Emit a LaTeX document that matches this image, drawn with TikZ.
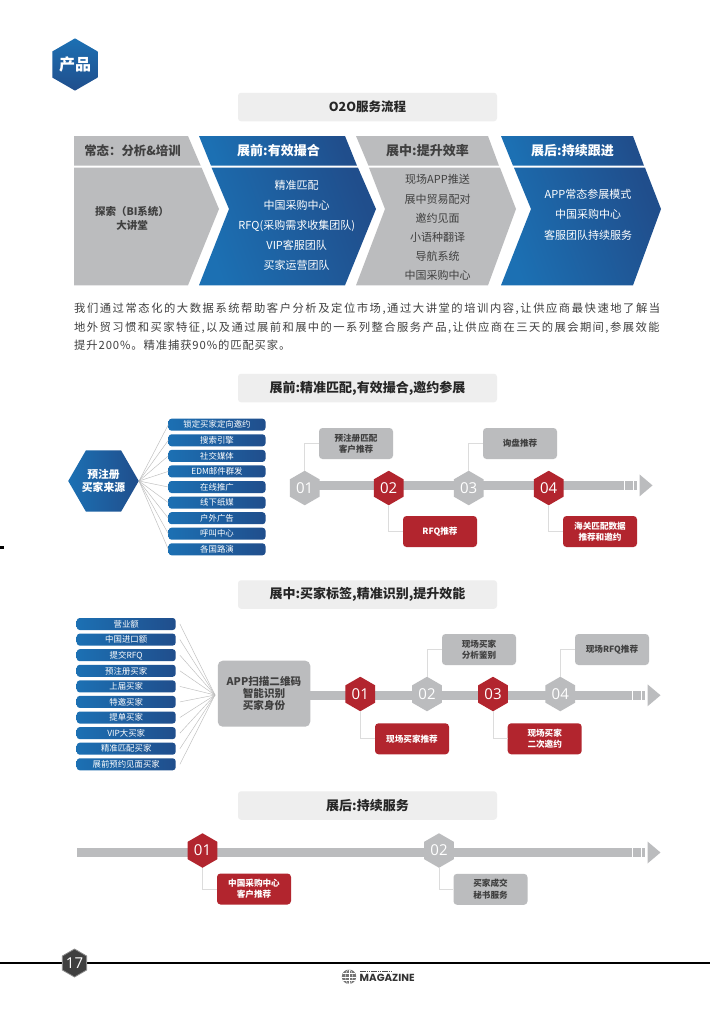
\documentclass[tikz,border=0pt]{standalone}
\usepackage{fontspec}
\setmainfont{Noto Sans CJK SC}
\newfontfamily\numf{Open Sans}
\newfontfamily\magf{Poppins}
\usetikzlibrary{shapes.geometric}
\definecolor{bluea}{HTML}{1C70B3}
\definecolor{blueb}{HTML}{204E8C}
\definecolor{grayc}{HTML}{BBBCBE}
\definecolor{redc}{HTML}{B2252E}
\definecolor{inkc}{HTML}{404040}
\definecolor{titc}{HTML}{EEEEEE}
\definecolor{connc}{HTML}{DCDCDC}
\definecolor{rayc}{HTML}{BDBDBD}
\newcommand\fs[2]{\fontsize{#1}{#2}\selectfont}
\newcommand\parafont{\fs{11.3}{18.6}}
\tikzset{
  ttl/.style={fill=titc,rounded corners=3pt,minimum width=259pt,minimum height=28.5pt,inner sep=0pt,text=black!85,font=\fs{13}{15}\bfseries},
  gbox/.style={fill=grayc,rounded corners=3.5pt,minimum width=74pt,minimum height=31pt,inner sep=0pt,align=center,text=inkc,font=\fs{8.6}{11.5}\bfseries},
  rbox/.style={gbox,fill=redc,text=white},
  hexbase/.style={regular polygon,regular polygon sides=6,regular polygon rotate=30,minimum size=34.5pt,inner sep=0pt,text=white,font=\numf\fs{15}{15}},
  hexr/.style={hexbase,fill=redc},
  hexg/.style={hexbase,fill=grayc},
  barline/.style={grayc,line width=9.4pt},
  conn/.style={connc,line width=0.9pt},
  ray/.style={rayc,line width=0.45pt},
  pill/.style={left color=bluea,right color=blueb,rounded corners=3pt,minimum width=97pt,minimum height=12pt,inner sep=0pt,text=white,font=\fs{8.4}{10}},
  pillb/.style={pill,minimum width=99pt},
  chevg/.style={fill=grayc},
  chevb/.style={left color=bluea,right color=blueb,shading angle=110},
  headw/.style={text=white,font=\fs{13}{15}\bfseries},
  headk/.style={text=inkc,font=\fs{13}{15}\bfseries},
  tltail/.pic={
    \fill[grayc] (1,-4.7) rectangle (8.5,4.7);
    \fill[grayc] (9.5,-4.7) rectangle (13,4.7);
    \fill[grayc] (15.5,-11) -- (28.5,0) -- (15.5,11) -- cycle;
  }
}
\begin{document}
\begin{tikzpicture}[x=1pt,y=-1pt]
\useasboundingbox (0,0) rectangle (710,1028);
\fill[white] (0,0) rectangle (710,1028);

% badge
\node[regular polygon,regular polygon sides=6,regular polygon rotate=30,minimum size=49pt,inner sep=0pt,fill=white,draw=bluea,line width=0.8pt] (badgeo) at (75,64.5) {};
\node[regular polygon,regular polygon sides=6,regular polygon rotate=30,minimum size=45.5pt,inner sep=0pt,top color=bluea,bottom color=blueb,text=white,font=\fs{16}{18}\bfseries] (badge) at (75,64.5) {产品};

\node[ttl,font=\fs{12.5}{15}\bfseries] (t1) at (367.5,107) {O2O服务流程};

% chevrons
\path[chevg] (74,136) -- (188,136) -- (200.7,165.7) -- (74,165.7) -- cycle;
\path[chevg] (74,167.7) -- (201.6,167.7) -- (219,209) -- (188,285.3) -- (74,285.3) -- cycle;
\path[chevb] (199,136) -- (345,136) -- (357,165.7) -- (211,165.7) -- cycle;
\path[chevb] (211.6,167.7) -- (358,167.7) -- (376,209) -- (345,285.3) -- (199,285.3) -- (229,209) -- cycle;
\path[chevg] (356,136) -- (488,136) -- (499,165.7) -- (368.5,165.7) -- cycle;
\path[chevg] (369,167.7) -- (500,167.7) -- (516,209) -- (488,285.3) -- (356,285.3) -- (385,209) -- cycle;
\path[chevb] (501,136) -- (633,136) -- (644,165.7) -- (513,165.7) -- cycle;
\path[chevb] (514,167.7) -- (645,167.7) -- (661,209) -- (633,285.3) -- (501,285.3) -- (531,209) -- cycle;

\node[headk,font=\fs{12.4}{15}\bfseries] (h1) at (132.5,151) {常态：分析\&培训};
\node[headw] (h2) at (278.5,151) {展前:有效撮合};
\node[headk] (h3) at (427.5,151) {展中:提升效率};
\node[headw] (h4) at (572.5,151) {展后:持续跟进};

\node[align=center,text=inkc,font=\fs{10.5}{14}\bfseries] (c1) at (132,218.7) {探索（BI系统）\\大讲堂};
\node[align=center,text=white,font=\fs{11}{20}] (c2) at (296.7,225) {精准匹配\\中国采购中心\\RFQ(采购需求收集团队)\\VIP客服团队\\买家运营团队};
\node[align=center,text=inkc,font=\fs{11}{19.2}] (c3) at (437.5,227.7) {现场APP推送\\展中贸易配对\\邀约见面\\小语种翻译\\导航系统\\中国采购中心};
\node[align=center,text=white,font=\fs{11}{20.5}] (c4) at (588,214.5) {APP常态参展模式\\中国采购中心\\客服团队持续服务};

% paragraph
\node[anchor=north west,inner sep=0pt,align=left,text=inkc,font=\parafont] (para) at (74,303) {%
{\addfontfeature{LetterSpace=13.7}我们通过常态化的大数据系统帮助客户分析及定位市场,通过大讲堂的培训内容,让供应商最快速地了解当}\\
{\addfontfeature{LetterSpace=12.7}地外贸习惯和买家特征,以及通过展前和展中的一系列整合服务产品,让供应商在三天的展会期间,参展效能}\\
{\addfontfeature{LetterSpace=8}提升200\%。精准捕获90\%的匹配买家。}};

% section 2
\node[ttl] (t2) at (367.5,388) {展前:精准匹配,有效撮合,邀约参展};
\node[regular polygon,regular polygon sides=6,minimum size=59pt,inner sep=0pt,left color=bluea,right color=blueb,align=center,text=white,font=\fs{10.8}{12.5}\bfseries] (src) at (103.5,481) {预注册\\买家来源};
\foreach \i/\y/\t in {1/424.7/锁定买家定向邀约,2/440.3/搜索引擎,3/455.9/社交媒体,4/471.4/EDM邮件群发,5/487/在线推广,6/502.6/线下纸媒,7/518.2/户外广告,8/533.7/呼叫中心,9/549.3/各国路演}{
  \node[pill] (p\i) at (217,\y) {\t};
  \draw[ray] (src.east) -- (p\i.west);
}
\coordinate (a0) at (300,485.4);
\coordinate (a1) at (624,485.4);
\draw[barline] (a0) -- (a1);
\pic at (a1) {tltail};
\node[hexg] (a01) at (304.7,488) {01};
\node[hexr] (a02) at (388.7,488) {02};
\node[hexg] (a03) at (468.7,488) {03};
\node[hexr] (a04) at (548.7,488) {04};
\node[gbox] (ab1) at (356,443.5) {预注册匹配\\客户推荐};
\node[rbox] (ab2) at (440,531.5) {RFQ推荐};
\node[gbox] (ab3) at (520,443.5) {询盘推荐};
\node[rbox] (ab4) at (600,531.5) {海关匹配数据\\推荐和邀约};
\draw[conn] (a01.north) |- (ab1.west);
\draw[conn] (a02.south) |- (ab2.west);
\draw[conn] (a03.north) |- (ab3.west);
\draw[conn] (a04.south) |- (ab4.west);

% section 3
\node[ttl] (t3) at (367.5,594.5) {展中:买家标签,精准识别,提升效能};
\coordinate (conv) at (215,695);
\foreach \i/\y/\t in {1/624/营业额,2/639.6/中国进口额,3/655.2/提交RFQ,4/670.8/预注册买家,5/686.4/上届买家,6/701.9/特邀买家,7/717.5/提单买家,8/733.1/VIP大买家,9/748.7/精准匹配买家,10/764.3/展前预约见面买家}{
  \node[pillb] (q\i) at (126.2,\y) {\t};
  \draw[ray] ([xshift=4pt]q\i.east) -- (conv);
}
\coordinate (b1) at (632,695.3);
\node[fill=grayc,rounded corners=5pt,minimum width=92.5pt,minimum height=66pt,inner sep=0pt,align=center,text=inkc,font=\fs{10.6}{11.8}\bfseries] (app) at (264,693.7) {APP扫描二维码\\智能识别\\买家身份};
\draw[barline] (app.east |- b1) -- (b1);
\pic at (b1) {tltail};
\node[hexr] (b01) at (360.3,694) {01};
\node[hexg] (b02) at (427,694) {02};
\node[hexr] (b03) at (493,694) {03};
\node[hexg] (b04) at (560.3,694) {04};
\node[rbox] (bb1) at (412,738.8) {现场买家推荐};
\node[gbox] (bb2) at (479,649.5) {现场买家\\分析鉴别};
\node[rbox] (bb3) at (544.7,738.8) {现场买家\\二次邀约};
\node[gbox] (bb4) at (612,649.5) {现场RFQ推荐};
\draw[conn] (b01.south) |- (bb1.west);
\draw[conn] (b02.north) |- (bb2.west);
\draw[conn] (b03.south) |- (bb3.west);
\draw[conn] (b04.north) |- (bb4.west);

% section 4
\node[ttl] (t4) at (367.5,805.5) {展后:持续服务};
\coordinate (c0) at (77,852.5);
\coordinate (c9) at (632,852.5);
\draw[barline] (c0) -- (c9);
\pic at (c9) {tltail};
\node[hexr] (c01) at (202.5,850.5) {01};
\node[hexg] (c02) at (439,850.5) {02};
\node[rbox] (cb1) at (254,889) {中国采购中心\\客户推荐};
\node[gbox] (cb2) at (490.5,889.3) {买家成交\\秘书服务};
\draw[conn] (c01.south) |- (cb1.west);
\draw[conn] (c02.south) |- (cb2.west);

% footer
\coordinate (f0) at (0,962.7);
\coordinate (f1) at (710,962.7);
\draw[black,line width=1.8pt] (f0) -- (f1);
\node[regular polygon,regular polygon sides=6,regular polygon rotate=30,minimum size=28pt,inner sep=0pt,fill=inkc,draw=black!45,line width=0.8pt,text=white,font=\numf\fs{15}{15}] (pg) at (74.5,963) {17};
\fill[black] (0,545.5) rectangle (4,548.5);
% logo
\fill[black!55] (349,976.7) circle (7.2);
\draw[white,line width=0.35pt] (349,969.5) -- (349,983.9) (341.8,976.7) -- (356.2,976.7) (343,973) -- (355,973) (343,980.4) -- (355,980.4);
\draw[white,line width=0.35pt] (349,976.7) ellipse (3.5 and 7.2);
\draw[black!70,line width=0.9pt,dash pattern=on 1.5pt off 0.7pt] (360,971) -- (392,971);
\node[anchor=west,inner sep=0pt,text=black!80,font=\magf\fs{10.3}{11}\bfseries] (mag) at (359.5,978.2) {MAGAZINE};
\end{tikzpicture}
\end{document}
